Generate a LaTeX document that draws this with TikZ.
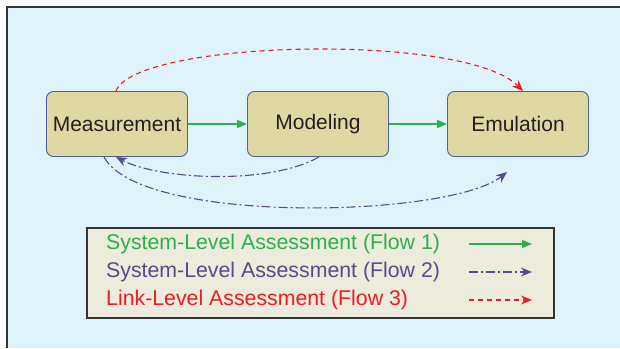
\documentclass[tikz,border=0pt]{standalone}
\usepackage{fontspec}
\setmainfont{Liberation Sans}
\usepackage{xcolor}
\usepackage{tikz}
\usetikzlibrary{positioning}
\usetikzlibrary{arrows.meta,shapes}
\usetikzlibrary{calc}
\definecolor{panelblue}{HTML}{E0F2FA}
\definecolor{boxfill}{HTML}{DFD8A3}
\definecolor{boxblue}{HTML}{4A5FA8}
\definecolor{legfill}{HTML}{ECEBDC}
\definecolor{flowgreen}{HTML}{2DB04B}
\definecolor{flowpurple}{HTML}{5B4A8A}
\definecolor{flowred}{HTML}{ED1C24}
\definecolor{inkgray}{HTML}{231F20}
\tikzstyle{block}=[rectangle,rounded corners=7pt,draw=boxblue,line width=0.9pt,fill=boxfill,minimum width=141pt,minimum height=65pt,inner sep=0pt,text=inkgray,font=\fontsize{21}{24}\selectfont]
\tikzstyle{legbox}=[rectangle,draw=black!80,line width=1.3pt,fill=legfill,minimum width=467pt,minimum height=90pt,inner sep=0pt]
\tikzstyle{legtext}=[anchor=west,inner sep=0pt,font=\fontsize{21.3}{24}\selectfont]
\tikzstyle{flowone} = [draw,flowgreen,line width=1.1pt,-{Triangle[length=10pt,width=8pt]}]
\tikzstyle{flowtwo} = [draw,flowpurple,line width=1.1pt,dash pattern=on 9pt off 3pt on 2pt off 3pt,-{Stealth[length=11pt,width=9pt]}]
\tikzstyle{flowthree} = [draw,flowred,line width=1.1pt,dash pattern=on 5pt off 4pt,-{Stealth[length=11pt,width=9pt]}]
\begin{document}
\begin{tikzpicture}[x=1pt,y=-1pt]

 \useasboundingbox (0,0) rectangle (620,348);

 %panel
 \fill[panelblue] (7,7) rectangle (620,348);
 \draw[black!80,line width=1.6pt] (7,348) -- (7,7) -- (620,7);

 %blocks
   \foreach \x/\y/\name/\label in {117/124/meas/Measurement, 318/124/model/Modeling, 518/124/emul/Emulation}
          \node[block] (\name) at (\x,\y) {\label};

 %flow 1
  \foreach \source/ \dest in {meas/model, model/emul}
         \path[flowone] (\source) -- (\dest);

 %flow 2
 \coordinate (emulin) at (507,172);
 \path[flowtwo] ([xshift=1pt]model.south) .. controls (270,185) and (160,180) .. ([xshift=-1pt]meas.south);
 \path[flowtwo] ([xshift=-13pt]meas.south) .. controls (140,225) and (450,218) .. (emulin);

 %flow 3
 \path[flowthree] ([xshift=-1pt]meas.north) .. controls (135,40) and (465,32) .. ([xshift=5pt]emul.north);

 %legend
 \node[legbox] (legend) at (320.5,273) {};
   \foreach \y/\name/\col/\sty/\label in {244/fone/flowgreen/flowone/System-Level Assessment (Flow 1), 272/ftwo/flowpurple/flowtwo/System-Level Assessment (Flow 2), 300/fthree/flowred/flowthree/Link-Level Assessment (Flow 3)}
   {
          \node[legtext,text=\col] (\name) at (106,\y) {\label};
          \coordinate (\name a) at (469,\y);
          \coordinate (\name b) at (532,\y);
          \path[\sty] (\name a) -- (\name b);
   }

\end{tikzpicture}
\end{document}
